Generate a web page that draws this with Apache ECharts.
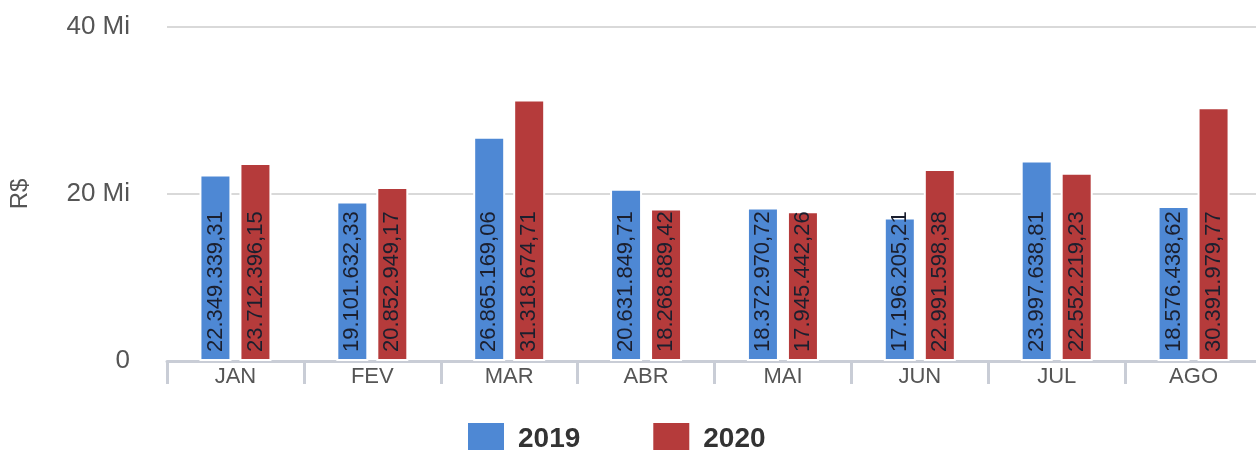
<!DOCTYPE html>
<html>
<head>
<meta charset="utf-8">
<script src="https://cdn.jsdelivr.net/npm/echarts@6/dist/echarts.min.js"></script>
<style>
  html, body { margin: 0; padding: 0; background: #fff; }
  #chart { width: 1256px; height: 450px; }
</style>
</head>
<body>
<div id="chart"></div>
<script>
// meses e valores (R$)
var meses = ['JAN', 'FEV', 'MAR', 'ABR', 'MAI', 'JUN', 'JUL', 'AGO'];
var valores2019 = [22349339.31, 19101632.33, 26865169.06, 20631849.71, 18372970.72, 17196205.21, 23997638.81, 18576438.62];
var valores2020 = [23712396.15, 20852949.17, 31318674.71, 18268889.42, 17945442.26, 22991598.38, 22552219.23, 30391979.77];
var ticksY = [0, 20000000, 40000000];

var chart = echarts.init(document.getElementById('chart'));

// formato brasileiro: 22.349.339,31
function formatoBR(v) {
    var partes = v.toFixed(2).split('.');
    var inteiro = partes[0].replace(/\B(?=(\d{3})+(?!\d))/g, '.');
    return inteiro + ',' + partes[1];
}

function eixoY(v) {
    if (v === 0) return '0';
    return (v / 1000000) + ' Mi';
}

var rotulo = {
    show: true,
    position: 'insideBottom',
    rotate: 90,
    align: 'left',
    verticalAlign: 'middle',
    distance: 9,
    fontFamily: 'Liberation Sans, Arial, sans-serif',
    fontSize: 22,
    color: '#1b1f2e',
    formatter: function (p) { return formatoBR(p.value); }
};

var option = {
    animation: false,
    textStyle: { fontFamily: 'Liberation Sans, Arial, sans-serif' },
    grid: {
        left: 167,
        right: -6,
        top: 27,
        bottom: 89,
        outerBoundsMode: 'none'
    },
    legend: {
        top: 416,
        left: 461,
        itemWidth: 38,
        itemHeight: 34,
        itemGap: 71,
        icon: 'rect',
        textStyle: { fontSize: 28, fontWeight: 'bold', color: '#333', padding: [0, 0, 0, 8] },
        data: ['2019', '2020']
    },
    xAxis: {
        type: 'category',
        data: meses,
        axisLine: { lineStyle: { color: '#c9cdd6', width: 3 } },
        axisTick: { show: true, length: 23, lineStyle: { color: '#c9cdd6', width: 3 } },
        axisLabel: { fontSize: 22, color: '#555', margin: 5 }
    },
    yAxis: {
        type: 'value',
        min: ticksY[0],
        max: ticksY[ticksY.length - 1],
        interval: ticksY[1] - ticksY[0],
        name: 'R$',
        nameLocation: 'middle',
        nameGap: 135,
        nameTextStyle: { fontSize: 24, color: '#555' },
        axisLine: { show: false },
        axisTick: { show: false },
        axisLabel: { fontSize: 26, color: '#555', margin: 37, formatter: eixoY },
        splitLine: { lineStyle: { color: '#d9d9d9', width: 2 } }
    },
    series: [
        {
            name: '2019',
            type: 'bar',
            barWidth: 32,
            barGap: '25%',
            data: valores2019,
            itemStyle: { color: '#4e88d4', borderColor: '#fff', borderWidth: 2 },
            label: rotulo
        },
        {
            name: '2020',
            type: 'bar',
            barWidth: 32,
            data: valores2020,
            itemStyle: { color: '#b53b3b', borderColor: '#fff', borderWidth: 2 },
            label: rotulo
        }
    ]
};

chart.setOption(option);
</script>
</body>
</html>
